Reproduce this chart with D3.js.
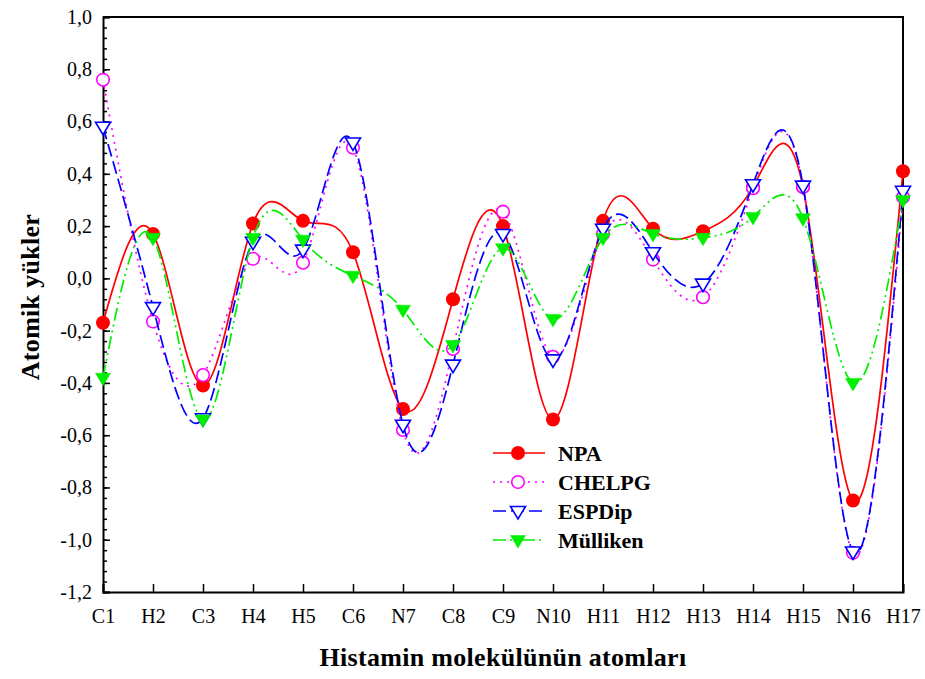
<!DOCTYPE html>
<html>
<head>
<meta charset="utf-8">
<script src="https://cdn.jsdelivr.net/npm/d3@7"></script>
<style>
  body { margin: 0; background: #fff; }
  svg text { font-family: "Liberation Serif", "Times New Roman", serif; fill: #000; }
</style>
</head>
<body>
<svg id="chart" width="925" height="679"></svg>
<script>
// atoms on the x axis
var categories = ["C1", "H2", "C3", "H4", "H5", "C6", "N7", "C8", "C9", "N10",
	"H11", "H12", "H13", "H14", "H15", "N16", "H17"];

// charges per method
var npa = [-0.17, 0.17, -0.41, 0.21, 0.22, 0.10, -0.50, -0.08, 0.20, -0.54,
	0.22, 0.19, 0.18, 0.35, 0.35, -0.85, 0.41];
var chelpg = [0.76, -0.165, -0.37, 0.075, 0.06, 0.50, -0.58, -0.27, 0.255, -0.30,
	0.17, 0.072, -0.072, 0.345, 0.35, -1.05, 0.31];
var espdip = [0.58, -0.11, -0.535, 0.14, 0.11, 0.52, -0.56, -0.33, 0.17, -0.31,
	0.19, 0.10, -0.02, 0.36, 0.355, -1.045, 0.335];
var mulliken = [-0.38, 0.155, -0.54, 0.155, 0.148, 0.01, -0.12, -0.255, 0.115, -0.155,
	0.155, 0.17, 0.155, 0.235, 0.23, -0.40, 0.30];

var seriesNames = ["NPA", "CHELPG", "ESPDip", "Mülliken"];
var yTicks = [-1.2, -1.0, -0.8, -0.6, -0.4, -0.2, 0.0, 0.2, 0.4, 0.6, 0.8, 1.0];

var styles = {
	"NPA":      { color: "#ff0000", dash: null,               marker: "circle",  fill: true },
	"CHELPG":   { color: "#ff00ff", dash: "2,5",              marker: "circle",  fill: false },
	"ESPDip":   { color: "#0000ff", dash: "13,5",             marker: "tri",     fill: false },
	"Mülliken": { color: "#00ee00", dash: "13,4,2,4,2,4",     marker: "tri",     fill: true }
};
var values = { "NPA": npa, "CHELPG": chelpg, "ESPDip": espdip, "Mülliken": mulliken };

var svg = d3.select("svg#chart"),
	margin = {top: 17, right: 22, bottom: 87, left: 103},
	width = +svg.attr("width") - margin.left - margin.right,
	height = +svg.attr("height") - margin.top - margin.bottom;
var g = svg.append("g").attr("transform", "translate(" + margin.left + "," + margin.top + ")");

var x = d3.scalePoint().domain(categories).range([0, width]).padding(0);
var y = d3.scaleLinear().domain([-1.2, 1.0]).range([height, 0]);

var fmt = function(d) { return d3.format(".1f")(d).replace(".", ",").replace("\u2212", "-"); };

// minor ticks on y
var minor = d3.range(-1.2, 1.0001, 0.04).map(function(d) { return +d.toFixed(2); });
g.append("g")
	.call(d3.axisLeft(y).tickValues(minor).tickSize(-4).tickFormat(""))
	.call(function(a) { a.select(".domain").remove(); })
	.selectAll("line").attr("stroke-width", 1.5);

// y axis
var yAxis = g.append("g")
	.call(d3.axisLeft(y).tickValues(yTicks).tickSize(-7).tickPadding(11).tickFormat(fmt));
yAxis.selectAll("text").style("font-size", "20px");
yAxis.selectAll("line").attr("stroke-width", 1.5);
yAxis.select(".domain").attr("stroke-width", 2);

// x axis
var xAxis = g.append("g")
	.attr("transform", "translate(0," + height + ")")
	.call(d3.axisBottom(x).tickSize(-8).tickPadding(17));
xAxis.selectAll("text").style("font-size", "20px");
xAxis.selectAll("line").attr("stroke-width", 1.5);
xAxis.select(".domain").attr("stroke-width", 2);

// top and right frame
g.append("path")
	.attr("d", "M0,0H" + width + "V" + height)
	.attr("fill", "none").attr("stroke", "#000").attr("stroke-width", 2);

var line = d3.line()
	.x(function(d, i) { return x(categories[i]); })
	.y(function(d) { return y(d); })
	.curve(d3.curveNatural);

function drawMarker(sel, name) {
	var s = styles[name];
	if (s.marker === "circle") {
		sel.append("circle")
			.attr("r", s.fill ? 7 : 6.3)
			.attr("fill", s.fill ? s.color : "#fff")
			.attr("stroke", s.color)
			.attr("stroke-width", s.fill ? 0 : 1.6);
	} else {
		sel.append("path")
			.attr("d", "M-7.5,-4.5L7.5,-4.5L0,8Z")
			.attr("fill", s.fill ? s.color : "#fff")
			.attr("stroke", s.color)
			.attr("stroke-width", s.fill ? 0.5 : 1.6)
			.attr("stroke-linejoin", "miter");
	}
}

seriesNames.forEach(function(name) {
	var s = styles[name];
	var data = values[name];
	g.append("path")
		.datum(data)
		.attr("d", line)
		.attr("fill", "none")
		.attr("stroke", s.color)
		.attr("stroke-width", 1.7)
		.attr("stroke-dasharray", s.dash);

	g.selectAll(null)
		.data(data)
	  .enter().append("g")
		.attr("transform", function(d, i) { return "translate(" + x(categories[i]) + "," + y(d) + ")"; })
		.each(function() { drawMarker(d3.select(this), name); });
});

// legend
var legend = svg.append("g").attr("transform", "translate(493,453)");
seriesNames.forEach(function(name, i) {
	var s = styles[name];
	var row = legend.append("g").attr("transform", "translate(0," + (i * 29) + ")");
	row.append("line")
		.attr("x1", 0).attr("x2", 52).attr("y1", 0).attr("y2", 0)
		.attr("stroke", s.color).attr("stroke-width", 1.7)
		.attr("stroke-dasharray", s.dash);
	drawMarker(row.append("g").attr("transform", "translate(25,0)"), name);
	row.append("text")
		.attr("x", 65).attr("y", 0).attr("dy", "0.35em")
		.style("font-size", "22px").style("font-weight", "bold")
		.text(name);
});

// axis titles
svg.append("text")
	.attr("x", 503).attr("y", 666)
	.attr("text-anchor", "middle")
	.style("font-size", "26px").style("font-weight", "bold")
	.style("letter-spacing", "0.3px")
	.text("Histamin molekülünün atomları");

svg.append("text")
	.attr("transform", "translate(39,297) rotate(-90)")
	.attr("text-anchor", "middle")
	.style("font-size", "26px").style("font-weight", "bold")
	.style("letter-spacing", "0.3px")
	.text("Atomik yükler");
</script>
</body>
</html>
